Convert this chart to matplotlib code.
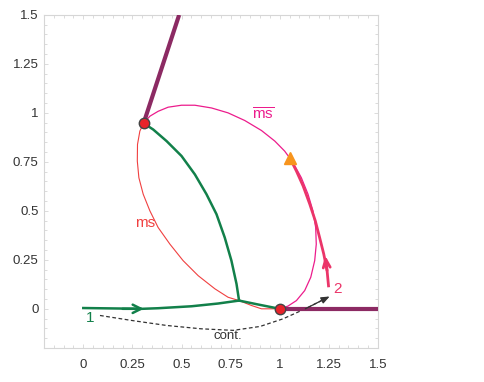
import matplotlib
matplotlib.use("Agg")
import matplotlib.pyplot as plt
from matplotlib.ticker import MultipleLocator, FixedLocator

plt.rcParams['font.family'] = ['Liberation Sans', 'DejaVu Sans']
plt.rcParams['mathtext.fontset'] = 'custom'
plt.rcParams['mathtext.rm'] = 'Liberation Sans'

# ---- data ----
point_a = (0.307, 0.947)
point_b = (1.0, 0.0)
triangle_pt = (1.051, 0.771)

purple_up_x = [0.307, 0.488]
purple_up_y = [0.947, 1.5]
purple_right_x = [1.0, 1.5]
purple_right_y = [0.0, 0.0]

green_bottom_x = [0.0, 0.15, 0.3, 0.381, 0.551, 0.686, 0.793]
green_bottom_y = [0.004, 0.002, 0.0, 0.003, 0.013, 0.027, 0.042]
green_up_x = [0.793, 0.780, 0.754, 0.720, 0.678, 0.627, 0.568, 0.500, 0.424, 0.356, 0.307]
green_up_y = [0.042, 0.127, 0.246, 0.364, 0.483, 0.585, 0.686, 0.780, 0.856, 0.915, 0.947]
green_right_x = [0.793, 0.890, 1.0]
green_right_y = [0.042, 0.022, 0.0]

ms_x = [0.307, 0.288, 0.276, 0.275, 0.283, 0.305, 0.339, 0.381, 0.441, 0.508,
        0.585, 0.670, 0.737, 0.793, 0.856, 0.907, 1.0]
ms_y = [0.947, 0.907, 0.839, 0.754, 0.669, 0.585, 0.500, 0.415, 0.330, 0.246,
        0.169, 0.102, 0.059, 0.042, 0.017, 0.0, 0.0]

msbar_x = [0.307, 0.339, 0.381, 0.432, 0.500, 0.568, 0.653, 0.737, 0.822, 0.907,
           0.975, 1.025, 1.068, 1.110, 1.144, 1.169, 1.183, 1.186, 1.178, 1.158,
           1.127, 1.085, 1.042, 1.0]
msbar_y = [0.947, 0.983, 1.008, 1.029, 1.039, 1.039, 1.025, 1.000, 0.961, 0.910,
           0.856, 0.805, 0.746, 0.669, 0.585, 0.500, 0.415, 0.330, 0.246, 0.161,
           0.093, 0.042, 0.014, 0.0]

path2_x = [1.249, 1.241, 1.224, 1.203, 1.181, 1.153, 1.119, 1.085, 1.051]
path2_y = [0.110, 0.195, 0.280, 0.364, 0.449, 0.534, 0.627, 0.703, 0.771]

cont_x = [0.085, 0.25, 0.424, 0.6, 0.763, 0.9, 1.017, 1.13, 1.254]
cont_y = [-0.034, -0.06, -0.085, -0.102, -0.110, -0.09, -0.051, 0.0, 0.063]

xticks = [0, 0.25, 0.5, 0.75, 1, 1.25, 1.5]
xtick_labels = ['0', '0.25', '0.5', '0.75', '1', '1.25', '1.5']
yticks = [0, 0.25, 0.5, 0.75, 1, 1.25, 1.5]
ytick_labels = ['0', '0.25', '0.5', '0.75', '1', '1.25', '1.5']

# ---- colours ----
c_green = '#12804a'
c_purple = '#8c2a63'
c_red = '#e8232a'
c_thinred = '#f04040'
c_magenta = '#ec1c8c'
c_crimson = '#eb3569'
c_orange = '#f7941d'

fig = plt.figure(figsize=(4.84, 3.82), dpi=100)
ax = fig.add_axes([0.0909, 0.089, 0.690, 0.872])
ax.set_xlim(-0.2, 1.5)
ax.set_ylim(-0.2, 1.5)

ax.plot(ms_x, ms_y, color=c_thinred, lw=0.8, zorder=2)
ax.plot(msbar_x, msbar_y, color=c_magenta, lw=0.9, zorder=2)
ax.plot(path2_x, path2_y, color=c_crimson, lw=2.0, zorder=3, solid_capstyle='butt')
ax.plot(green_bottom_x, green_bottom_y, color=c_green, lw=1.8, zorder=4)
ax.plot(green_up_x, green_up_y, color=c_green, lw=1.8, zorder=4)
ax.plot(green_right_x, green_right_y, color=c_green, lw=1.8, zorder=4)
ax.plot(purple_up_x, purple_up_y, color=c_purple, lw=3.0, zorder=3, solid_capstyle='butt')
ax.plot(purple_right_x, purple_right_y, color=c_purple, lw=3.0, zorder=3, solid_capstyle='butt')
ax.plot(cont_x, cont_y, color='#333333', lw=0.9, ls=(0, (3, 2)), zorder=2)

# arrows
ax.annotate('', xy=(0.308, 0.0), xytext=(0.2, 0.0),
            arrowprops=dict(arrowstyle='->,head_length=0.6,head_width=0.3',
                            color=c_green, lw=1.8, shrinkA=0, shrinkB=0), zorder=5)
ax.annotate('', xy=(1.232, 0.271), xytext=(1.241, 0.195),
            arrowprops=dict(arrowstyle='->,head_length=0.6,head_width=0.25',
                            color=c_crimson, lw=2.0, shrinkA=0, shrinkB=0), zorder=5)
ax.annotate('', xy=(cont_x[-1], cont_y[-1]), xytext=(cont_x[-2], cont_y[-2]),
            arrowprops=dict(arrowstyle='-|>,head_length=0.5,head_width=0.2',
                            color='#333333', lw=0.9, shrinkA=0, shrinkB=0), zorder=5)

ax.plot(*point_a, 'o', ms=7.5, mfc=c_red, mec='#444444', mew=1.0, zorder=6)
ax.plot(*point_b, 'o', ms=7.5, mfc=c_red, mec='#444444', mew=1.0, zorder=6)
ax.plot(*triangle_pt, '^', ms=8, color=c_orange, zorder=6)

ax.text(0.314, 0.437, 'ms', color=c_thinred, fontsize=11, ha='center', va='center')
ax.text(0.915, 0.99, r'$\overline{\rm ms}$', color=c_magenta, fontsize=11,
        ha='center', va='center')
ax.text(0.034, -0.045, '1', color=c_green, fontsize=11, ha='center', va='center')
ax.text(1.292, 0.100, '2', color=c_crimson, fontsize=11, ha='center', va='center')
ax.text(0.734, -0.141, 'cont.', color='#333333', fontsize=9.5, ha='center', va='center')

# axes styling
for s in ax.spines.values():
    s.set_color('#d6d6d6')
    s.set_linewidth(0.8)
ax.xaxis.set_major_locator(FixedLocator(xticks))
ax.yaxis.set_major_locator(FixedLocator(yticks))
ax.set_xticklabels(xtick_labels)
ax.set_yticklabels(ytick_labels)
ax.xaxis.set_minor_locator(MultipleLocator(0.05))
ax.yaxis.set_minor_locator(MultipleLocator(0.05))
ax.tick_params(which='both', direction='in', top=True, right=True,
               color='#d6d6d6', width=0.6, labelsize=9.5, labelcolor='#333333')
ax.tick_params(which='major', length=3)
ax.tick_params(which='minor', length=2.5)
ax.tick_params(axis='x', pad=8)
ax.tick_params(axis='y', pad=4)

fig.savefig('out.png', dpi=100)
